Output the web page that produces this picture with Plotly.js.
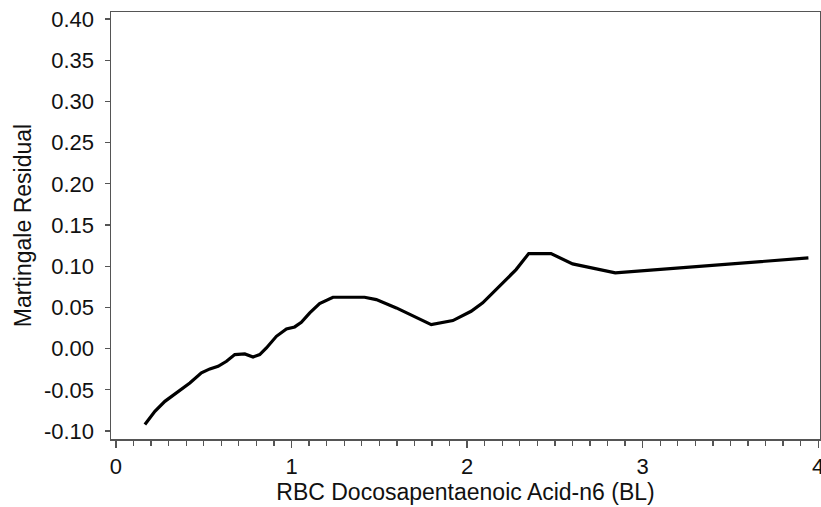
<!DOCTYPE html>
<html>
<head>
<meta charset="utf-8">
<script src="https://cdn.plot.ly/plotly-3.0.1.min.js"></script>
<style>html,body{margin:0;padding:0;background:#fff;}#chart{width:821px;height:507px;}</style>
</head>
<body>
<div id="chart"></div>
<script>
// RBC Docosapentaenoic Acid-n6 (BL) values
const xValues = [0.165, 0.222, 0.279, 0.345, 0.421, 0.487, 0.535, 0.582, 0.630, 0.677, 0.734, 0.781, 0.819, 0.857, 0.914, 0.971, 1.018, 1.056, 1.104, 1.160, 1.236, 1.416, 1.483, 1.597, 1.796, 1.919, 2.023, 2.089, 2.184, 2.279, 2.351, 2.478, 2.601, 2.844, 3.944];
// Martingale residual (smoothed)
const yValues = [-0.0922, -0.0761, -0.0640, -0.0538, -0.0417, -0.0295, -0.0246, -0.0215, -0.0154, -0.0073, -0.0064, -0.0101, -0.0073, 0.0008, 0.0149, 0.0239, 0.0263, 0.0319, 0.0433, 0.0546, 0.0623, 0.0623, 0.0595, 0.0494, 0.0291, 0.0340, 0.0453, 0.0555, 0.0756, 0.0959, 0.1153, 0.1153, 0.1028, 0.0919, 0.1101];
const xTickVals = [0, 1, 2, 3, 4];
const xTickText = ["0", "1", "2", "3", "4"];
const yTickVals = [-0.10, -0.05, 0.00, 0.05, 0.10, 0.15, 0.20, 0.25, 0.30, 0.35, 0.40];
const yTickText = ["-0.10", "-0.05", "0.00", "0.05", "0.10", "0.15", "0.20", "0.25", "0.30", "0.35", "0.40"];

const trace = {
  x: xValues, y: yValues, type: 'scatter', mode: 'lines',
  line: {color: '#000', width: 3.2, shape: 'linear'},
  hoverinfo: 'none'
};
const axisColor = '#555';
const layout = {
  width: 821, height: 507,
  margin: {l: 111, r: 1, t: 12, b: 68, pad: 0},
  paper_bgcolor: '#fff', plot_bgcolor: '#fff',
  showlegend: false,
  font: {family: 'Liberation Sans, Arial, sans-serif', color: '#111'},
  xaxis: {
    range: [-0.028, 4.01],
    tickvals: xTickVals, ticktext: xTickText,
    ticks: 'outside', ticklen: 7, tickwidth: 1.3, tickcolor: axisColor,
    minor: {dtick: 0.1, tick0: 0, ticks: 'outside', ticklen: 5, tickwidth: 1.3, tickcolor: axisColor, showgrid: false},
    showline: true, linecolor: axisColor, linewidth: 1.5, mirror: true,
    showgrid: false, zeroline: false,
    ticklabeloverflow: 'allow',
    tickfont: {size: 22, color: '#111'},
    title: {text: 'RBC Docosapentaenoic Acid-n6 (BL)', font: {size: 23, color: '#111'}, standoff: 2}
  },
  yaxis: {
    range: [-0.1097, 0.4085],
    tickvals: yTickVals, ticktext: yTickText,
    ticks: 'outside', ticklen: 5, tickwidth: 1.3, tickcolor: axisColor,
    showline: true, linecolor: axisColor, linewidth: 1.5, mirror: true,
    showgrid: false, zeroline: false,
    ticklabelstandoff: 6,
    tickfont: {size: 22, color: '#111'},
    title: {text: 'Martingale Residual', font: {size: 23, color: '#111'}, standoff: 6}
  }
};
Plotly.newPlot('chart', [trace], layout, {staticPlot: true, displayModeBar: false});
</script>
</body>
</html>
